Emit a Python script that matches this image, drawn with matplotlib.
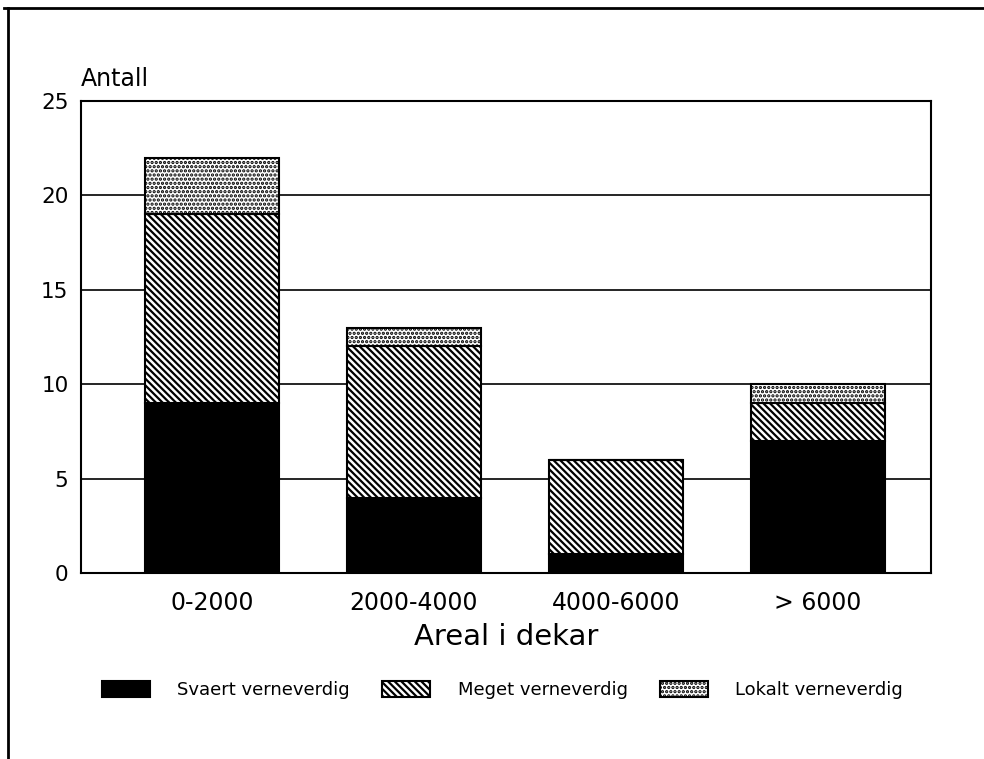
import matplotlib
matplotlib.use("Agg")
import matplotlib.pyplot as plt
from matplotlib.lines import Line2D
import numpy as np

categories = ["0-2000", "2000-4000", "4000-6000", "> 6000"]
svaert = [9, 4, 1, 7]
meget = [10, 8, 5, 2]
lokalt = [3, 1, 0, 1]
series_names = ["Svaert verneverdig", "Meget verneverdig", "Lokalt verneverdig"]
y_ticks = [0, 5, 10, 15, 20, 25]

plt.rcParams["font.family"] = ["DejaVu Sans"]
plt.rcParams["hatch.linewidth"] = 1.6

fig = plt.figure(figsize=(9.84, 7.59), dpi=100)
ax = fig.add_axes([0.0823, 0.245, 0.8638, 0.622])

x = np.arange(len(categories))
w = 0.66
svaert_a = np.array(svaert)
meget_a = np.array(meget)
lokalt_a = np.array(lokalt)

b1 = ax.bar(x, svaert_a, w, color="black", edgecolor="black", linewidth=1.5,
            zorder=3, label=series_names[0])
b2 = ax.bar(x, meget_a, w, bottom=svaert_a, color="white", edgecolor="black",
            hatch="\\\\\\\\\\", linewidth=1.5, zorder=3, label=series_names[1])
b3 = ax.bar(x, lokalt_a, w, bottom=svaert_a + meget_a, color="white",
            edgecolor="black", hatch="....", linewidth=1.5, zorder=3,
            label=series_names[2])

ax.set_xlim(-0.648, 3.56)
ax.set_ylim(0, 25)
ax.set_yticks(y_ticks)
ax.set_xticks(x)
ax.set_xticklabels(categories, fontsize=17)
ax.tick_params(axis="y", length=0, pad=9, labelsize=15.5)
ax.tick_params(axis="x", length=0, pad=13)
for gy in y_ticks[1:-1]:
    ax.axhline(gy, color="black", linewidth=1.2, zorder=1)
for s in ax.spines.values():
    s.set_linewidth(1.5)

ax.set_xlabel("Areal i dekar", fontsize=21, labelpad=6)
ax.text(0.0, 1.022, "Antall", transform=ax.transAxes, fontsize=17,
        ha="left", va="bottom")

fig.legend(handles=[b1, b2, b3], labels=series_names, loc="center left",
           bbox_to_anchor=(0.087, 0.091), ncol=3, frameon=False, fontsize=13,
           handlelength=2.67, handleheight=0.95, handletextpad=1.5,
           columnspacing=1.8)

# outer frame lines (left and top)
fig.add_artist(Line2D([0.008, 0.008], [0.0, 0.989], transform=fig.transFigure,
                      color="black", linewidth=2))
fig.add_artist(Line2D([0.004, 1.0], [0.989, 0.989], transform=fig.transFigure,
                      color="black", linewidth=2))

fig.savefig("out.png", dpi=100)
